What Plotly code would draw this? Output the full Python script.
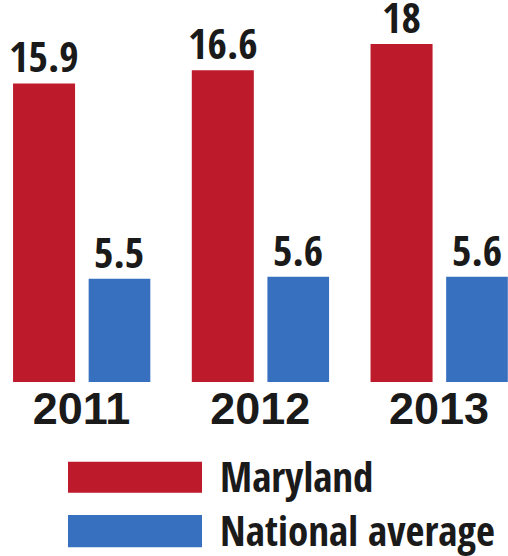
import plotly.graph_objects as go

years = ["2011", "2012", "2013"]
maryland = [15.9, 16.6, 18]
national = [5.5, 5.6, 5.6]
series_names = ["Maryland", "National average"]

RED = "#BD1A2B"
BLUE = "#3870C0"
NARROW = ("Liberation Sans Narrow, Noto Sans ExtraCondensed, Noto Sans Condensed, "
          "Open Sans Condensed, DejaVu Sans Condensed, sans-serif")
WIDE = "Liberation Sans, Arial, sans-serif"

xpos = list(range(len(years)))

# bar geometry (in x-axis units)
RED_OFF, RED_W = -0.383, 0.347
BLUE_OFF, BLUE_W = 0.040, 0.345

fig = go.Figure()
fig.add_trace(go.Bar(
    x=xpos, y=maryland, name=series_names[0],
    marker=dict(color=RED, line=dict(width=0)),
    offset=RED_OFF, width=RED_W,
))
fig.add_trace(go.Bar(
    x=xpos, y=national, name=series_names[1],
    marker=dict(color=BLUE, line=dict(width=0)),
    offset=BLUE_OFF, width=BLUE_W,
))

# value labels above bars
label_font = dict(family=NARROW, size=42, color="#1a1a1a", weight="bold")
for vals, off, w in [(maryland, RED_OFF, RED_W), (national, BLUE_OFF, BLUE_W)]:
    for xi, v in zip(xpos, vals):
        fig.add_annotation(x=xi + off + w / 2, y=v, xref="x", yref="y",
                           text=f"{v:g}", showarrow=False,
                           xanchor="center", yanchor="bottom", yshift=-3,
                           font=label_font)

# Legend: swatches and labels
H = 382.0
def py(p):
    return (H - p) / H

colors = [RED, BLUE]
rows = [(461.7, 492.7), (515.0, 547.3)]
for name, col, (t, b) in zip(series_names, colors, rows):
    fig.add_shape(type="rect", xref="paper", yref="paper",
                  x0=68 / 508, x1=202 / 508, y0=py(b), y1=py(t),
                  fillcolor=col, line=dict(width=0))
    fig.add_annotation(xref="paper", yref="paper", x=218 / 508, y=py((t + b) / 2 - 1.5),
                       text=name, showarrow=False, xanchor="left", yanchor="middle",
                       font=dict(family=NARROW, size=41, color="#1a1a1a", weight="bold"))

fig.update_layout(
    width=508, height=556,
    margin=dict(l=0, r=0, t=0, b=174, autoexpand=False),
    paper_bgcolor="white", plot_bgcolor="white",
    barmode="overlay", showlegend=False,
    xaxis=dict(range=[-0.456, 2.386], tickmode="array", tickvals=xpos, ticktext=years,
               showgrid=False, zeroline=False, showline=False, ticks="",
               ticklabelstandoff=-4,
               tickfont=dict(family=WIDE, size=45, color="#1a1a1a", weight="bold"),
               fixedrange=True),
    yaxis=dict(range=[0, 20.34], visible=False, showgrid=False, zeroline=False,
               fixedrange=True),
)

fig.write_html("out.html", config={"displayModeBar": False},
               post_script="document.body.style.margin='0';document.body.style.overflow='hidden';")
